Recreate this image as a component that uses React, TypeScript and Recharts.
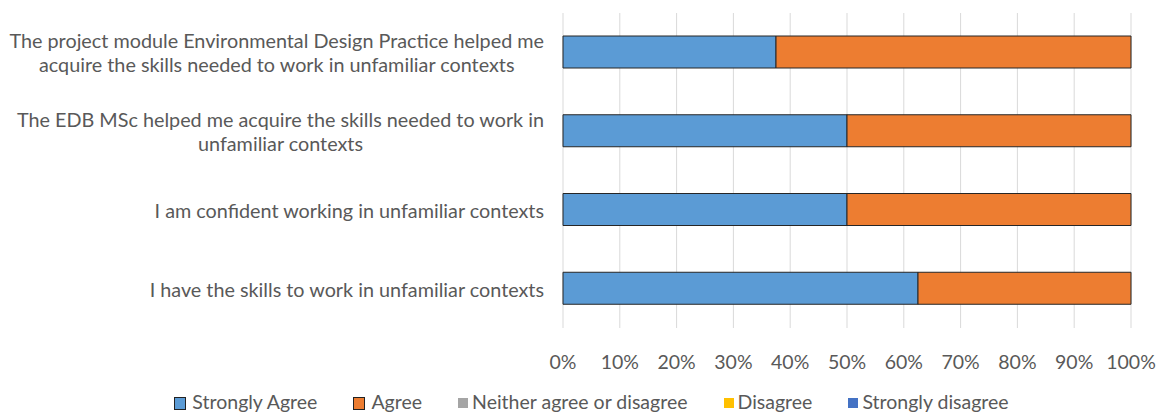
import React from "react";
import { BarChart, Bar, XAxis, YAxis, CartesianGrid, Legend } from "recharts";

const categories = [
  "The project module Environmental Design Practice helped me\nacquire the skills needed to work in unfamiliar contexts",
  "The EDB MSc helped me acquire the skills needed to work in\nunfamiliar contexts",
  "I am confident working in unfamiliar contexts",
  "I have the skills to work in unfamiliar contexts",
];
const stronglyAgree = [0.375, 0.5, 0.5, 0.625];
const agree = [0.625, 0.5, 0.5, 0.375];
const neither = [0, 0, 0, 0];
const disagree = [0, 0, 0, 0];
const stronglyDisagree = [0, 0, 0, 0];
const xTicks = [0, 0.1, 0.2, 0.3, 0.4, 0.5, 0.6, 0.7, 0.8, 0.9, 1];

const seriesNames = ["Strongly Agree", "Agree", "Neither agree or disagree", "Disagree", "Strongly disagree"];
const seriesKeys = ["sa", "a", "n", "d", "sd"];
const seriesColors = ["#5B9BD5", "#ED7D31", "#A5A5A5", "#FFC000", "#4472C4"];

const data = categories.map((c, i) => ({
  cat: c,
  sa: stronglyAgree[i],
  a: agree[i],
  n: neither[i],
  d: disagree[i],
  sd: stronglyDisagree[i],
}));

const FONT = "Lato, 'Open Sans', sans-serif";
const TEXT = "#595959";
const FS = 19.5;

const YTick = (props: any) => {
  const { x, y, payload } = props;
  const lines = String(payload.value).split("\n");
  return (
    <foreignObject x={x - 600} y={y - 30} width={600} height={60}>
      <div
        style={{
          display: "flex",
          justifyContent: "flex-end",
          alignItems: "center",
          height: "100%",
          fontFamily: FONT,
          fontSize: 19.8,
          color: TEXT,
          lineHeight: "24px",
        }}
      >
        <div style={{ textAlign: "center", whiteSpace: "nowrap" }}>
          {lines.map((l, i) => (
            <div key={i}>{l}</div>
          ))}
        </div>
      </div>
    </foreignObject>
  );
};

const LegendContent = () => (
  <div
    style={{
      display: "flex",
      justifyContent: "center",
      gap: 36,
      fontFamily: FONT,
      fontSize: FS,
      color: TEXT,
      paddingLeft: 52,
      paddingTop: 9,
      lineHeight: "22px",
    }}
  >
    {seriesNames.map((n, i) => (
      <div key={n} style={{ display: "flex", alignItems: "center" }}>
        <span
          style={{
            display: "inline-block",
            width: 10,
            height: i < 2 ? 11 : 10,
            background: seriesColors[i],
            border: i < 2 ? "1px solid #222" : "none",
            marginRight: i < 2 ? 6 : 4,
            marginTop: 2,
          }}
        />
        <span>{n}</span>
      </div>
    ))}
  </div>
);

export default function App() {
  return (
    <div style={{ position: "absolute", left: 0, top: 0, background: "#fff" }}>
      <BarChart
        width={1163}
        height={412}
        data={data}
        layout="vertical"
        margin={{ top: 13, right: 32, bottom: 0, left: 0 }}
        barSize={32}
      >
        <CartesianGrid horizontal={false} stroke="#D9D9D9" />
        <XAxis
          type="number"
          domain={[0, 1]}
          ticks={xTicks}
          tickFormatter={(v: number) => `${Math.round(v * 100)}%`}
          axisLine={false}
          tickLine={false}
          tick={{ fill: TEXT, fontSize: FS, fontFamily: FONT }}
          tickMargin={21}
          height={54}
          interval={0}
        />
        <YAxis
          type="category"
          dataKey="cat"
          width={563}
          axisLine={false}
          tickLine={false}
          tickSize={0}
          tickMargin={19}
          tick={<YTick />}
          interval={0}
        />
        <Legend verticalAlign="bottom" height={30} content={<LegendContent />} />
        {seriesKeys.map((k, i) => (
          <Bar
            key={k}
            dataKey={k}
            name={seriesNames[i]}
            stackId="s"
            fill={seriesColors[i]}
            stroke="#262626"
            strokeWidth={i < 2 ? 1 : 0}
            isAnimationActive={false}
          />
        ))}
      </BarChart>
    </div>
  );
}
